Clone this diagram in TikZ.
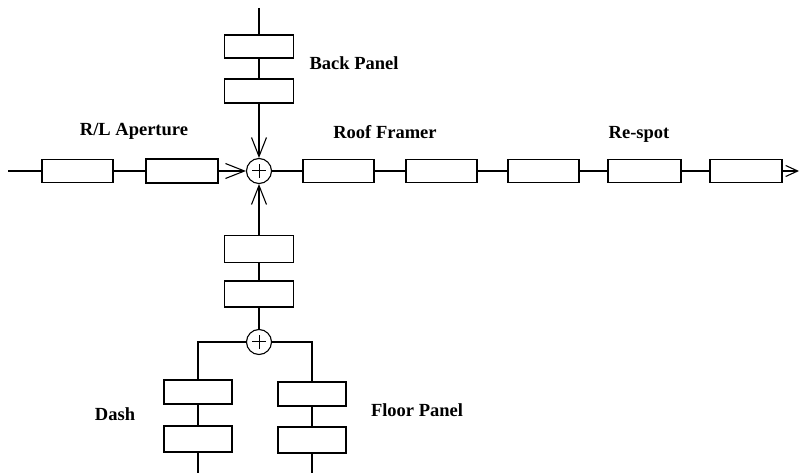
\documentclass[tikz,border=0pt]{standalone}
\usepackage{fontspec}
\setmainfont{Liberation Serif}
\usetikzlibrary{arrows.meta}
\begin{document}
\begin{tikzpicture}[x=1pt,y=-1pt,line width=1.1pt,
  blk/.style={draw, minimum width=70pt, minimum height=23pt, inner sep=0pt},
  tall/.style={blk, minimum height=26pt},
  sumnode/.style={draw, circle, minimum size=25pt, inner sep=0pt,
    path picture={\draw[line width=1pt] ([xshift=-7pt]path picture bounding box.center) -- ([xshift=7pt]path picture bounding box.center);
                  \draw[line width=1pt] ([yshift=-7pt]path picture bounding box.center) -- ([yshift=7pt]path picture bounding box.center);}},
  lbl/.style={font=\bfseries\fontsize{18.5}{20}\selectfont, anchor=base, inner sep=0pt},
  arr/.style={-{Straight Barb[length=19pt,width=15pt,line width=1.1pt]}},
  endarr/.style={-{Straight Barb[length=12pt,width=11pt,line width=1.1pt]}}]
\useasboundingbox (0,0) rectangle (804,473);

% left input
\coordinate (start) at (8,171);
\node[blk, minimum width=71pt] (R1) at (77.5,171) {};
\node[blk, minimum width=72pt, minimum height=24pt] (R2) at (182,171) {};
\node[sumnode] (S1) at (259,171) {};

% back panel
\coordinate (top) at (259,8);
\node[blk, minimum width=69pt] (B1) at (259,46.5) {};
\node[blk, minimum width=69pt, minimum height=24pt] (B2) at (259,91) {};

% lower column
\node[tall, minimum width=69pt, minimum height=27pt] (L1) at (259,249) {};
\node[tall, minimum width=69pt] (L2) at (259,294) {};
\node[sumnode] (S2) at (259,342) {};

% dash branch
\node[blk, minimum width=68pt, minimum height=24pt] (D1) at (198,392) {};
\node[tall, minimum width=68pt] (D2) at (198,439) {};
\coordinate (Dend) at (198,473);

% floor panel branch
\node[blk, minimum width=68pt, minimum height=24pt] (F1) at (312,394) {};
\node[tall, minimum width=68pt] (F2) at (312,440) {};
\coordinate (Fend) at (312,473);

% main line
\node[blk, minimum width=71pt] (M1) at (338.5,171) {};
\node[blk, minimum width=71pt] (M2) at (441.5,171) {};
\node[blk, minimum width=71pt] (M3) at (543.5,171) {};
\node[blk, minimum width=73pt] (M4) at (644.5,171) {};
\node[blk, minimum width=72pt] (M5) at (746,171) {};
\coordinate (end) at (799,171);

% connectors
\draw (start) -- (R1);
\draw (R1) -- (R2);
\draw[arr] (R2) -- (S1);
\draw (top) -- (B1);
\draw (B1) -- (B2);
\draw[arr] (B2) -- (S1);
\draw[arr] (L1) -- (S1);
\draw (L2) -- (L1);
\draw (S2) -- (L2);
\draw (S2.west) -| (D1.north);
\draw (S2.east) -| (F1.north);
\draw (D1) -- (D2);
\draw (D2) -- (Dend);
\draw (F1) -- (F2);
\draw (F2) -- (Fend);
\draw (S1) -- (M1);
\draw (M1) -- (M2);
\draw (M2) -- (M3);
\draw (M3) -- (M4);
\draw (M4) -- (M5);
\draw[endarr] (M5) -- (end);

% labels
\node[lbl] (lbBack) at (354,70) {Back Panel};
\node[lbl] (lbRL) at (134,136) {R/L Aperture};
\node[lbl] (lbRoof) at (385,139) {Roof Framer};
\node[lbl] (lbResp) at (639,139) {Re-spot};
\node[lbl] (lbDash) at (115,420) {Dash};
\node[lbl] (lbFloor) at (417,417) {Floor Panel};
\end{tikzpicture}
\end{document}
